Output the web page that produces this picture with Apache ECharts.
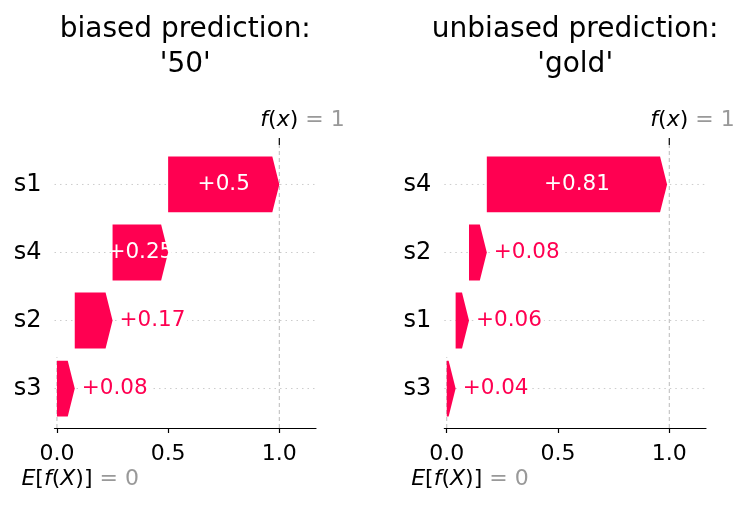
<!DOCTYPE html>
<html><head><meta charset="utf-8">
<script src="https://cdn.jsdelivr.net/npm/echarts@6/dist/echarts.min.js"></script>
<style>html,body{margin:0;padding:0;background:#fff}#c{width:747px;height:505px}</style>
</head><body><div id="c"></div>
<script>
// ---- data ----
const titles = ["biased prediction:\n'50'", "unbiased prediction:\n'gold'"];
const features1 = ['s1', 's4', 's2', 's3'];   // top -> bottom
const values1 = [0.5, 0.25, 0.17, 0.08];
const features2 = ['s4', 's2', 's1', 's3'];
const values2 = [0.81, 0.08, 0.06, 0.04];
const baseValues = [0, 0];
const fxValues = [1, 1];
const xTicks = [0, 0.5, 1.0];
const xTickLabels = ['0.0', '0.5', '1.0'];

const RED = '#ff0051';
const FONT = 'DejaVu Sans';
const GRIDS = [
  {left: 54.5, width: 261.5, top: 145, height: 283},
  {left: 444.3, width: 261.7, top: 145, height: 283}
];

const mctx = document.createElement('canvas').getContext('2d');
function measure(parts) {
  let w = 0;
  parts.forEach(p => { mctx.font = (p[1] ? 'italic ' : '') + p[2] + 'px "' + FONT + '"'; w += mctx.measureText(p[0]).width; });
  return w;
}

function buildRows(features, values, base) {
  const n = features.length, rows = [];
  let cum = base;
  for (let i = n - 1; i >= 0; i--) {
    rows.push([n - 1 - i, cum, cum + values[i], values[i]]);
    cum += values[i];
  }
  return rows;
}
function fmt(v) { return '+' + Number(v.toFixed(2)).toString(); }

function barRender(params, api) {
  const row = api.value(0), s = api.value(1), e = api.value(2), v = api.value(3);
  const cs = params.coordSys;
  const p0 = api.coord([s, row]), p1 = api.coord([e, row]);
  const h = api.size([0, 0.82])[1];
  const yc = p0[1], x0 = p0[0], x1 = p1[0], w = x1 - x0;
  const head = Math.min(7, w * 0.8);
  const pts = [[x0, yc - h / 2], [x1 - head, yc - h / 2], [x1, yc], [x1 - head, yc + h / 2], [x0, yc + h / 2]];
  const inside = w > 50;
  const txt = {
    type: 'text', x: inside ? (x0 + x1) / 2 : x1 + 5, y: yc, z2: 10,
    style: {text: fmt(v), fill: inside ? '#ffffff' : RED, fontSize: 21.5, fontFamily: FONT,
      align: inside ? 'center' : 'left', verticalAlign: 'middle',
      backgroundColor: inside ? null : '#ffffff', padding: inside ? 0 : [0, 2]}
  };
  return {type: 'group', children: [
    {type: 'line', z2: 0, shape: {x1: cs.x, y1: yc, x2: cs.x + cs.width, y2: yc},
      style: {stroke: '#cccccc', lineWidth: 1, lineDash: [1.5, 4]}},
    {type: 'polygon', z2: 5, shape: {points: pts}, style: {fill: RED}},
    txt
  ]};
}

function refRender(params, api) {
  const cs = params.coordSys;
  const bv = api.value(0), fv = api.value(1);
  const bx = api.coord([bv, 0])[0], fx = api.coord([fv, 0])[0];
  const bottom = cs.y + cs.height, top = cs.y;
  const dash = {stroke: '#bbbbbb', lineWidth: 1, lineDash: [4, 3]};
  const fs = 22;
  const rich = {
    it: {fontStyle: 'italic', fontSize: fs, fontFamily: FONT, fill: '#000'},
    n: {fontSize: fs, fontFamily: FONT, fill: '#000'},
    g: {fontSize: fs, fontFamily: FONT, fill: '#999999'}
  };
  const wF = measure([['f', 1, fs], ['(', 0, fs], ['x', 1, fs], [')', 0, fs]]);
  const wE = measure([['E', 1, fs], ['[', 0, fs], ['f', 1, fs], ['(', 0, fs], ['X', 1, fs], [')]', 0, fs]]);
  return {type: 'group', children: [
    {type: 'line', shape: {x1: bx, y1: bottom, x2: bx, y2: bottom - cs.height / 4}, style: dash},
    {type: 'line', shape: {x1: fx, y1: bottom, x2: fx, y2: top}, style: dash},
    {type: 'line', shape: {x1: fx, y1: top - 7, x2: fx, y2: top}, style: {stroke: '#000', lineWidth: 1.2}},
    {type: 'text', x: fx - wF / 2, y: top - 25, style: {
      text: '{it|f}{n|(}{it|x}{n|)}{g| = ' + Number(fv.toFixed(3)) + '}', rich: rich,
      fontSize: fs, fontFamily: FONT, align: 'left', verticalAlign: 'middle'}},
    {type: 'text', x: bx - wE / 2, y: bottom + 51, style: {
      text: '{it|E}{n|[}{it|f}{n|(}{it|X}{n|)]}{g| = ' + Number(bv.toFixed(3)) + '}', rich: rich,
      fontSize: fs, fontFamily: FONT, align: 'left', verticalAlign: 'middle'}}
  ]};
}

const panels = [[features1, values1], [features2, values2]];
const option = {
  animation: false,
  backgroundColor: '#ffffff',
  grid: GRIDS.map(g => Object.assign({containLabel: false}, g)),
  graphic: titles.map((t, i) => ({
    type: 'text', x: GRIDS[i].left + GRIDS[i].width / 2, y: 12,
    style: {text: t, fontSize: 28, fontFamily: FONT, fill: '#000', align: 'center', verticalAlign: 'top', lineHeight: 35}
  })),
  xAxis: panels.map((p, i) => ({
    type: 'value', gridIndex: i, min: -0.011, max: 1.165,
    axisLine: {show: true, onZero: false, lineStyle: {color: '#000', width: 1.2}},
    axisTick: {show: true, length: 5, customValues: xTicks, lineStyle: {color: '#000', width: 1.2}},
    axisLabel: {customValues: xTicks, margin: 15, fontSize: 22, fontFamily: FONT, color: '#000',
      formatter: v => xTickLabels[xTicks.indexOf(v)] || ''},
    splitLine: {show: false}
  })),
  yAxis: panels.map((p, i) => ({
    type: 'value', gridIndex: i, min: -0.58, max: 3.58,
    axisLine: {show: false, onZero: false}, axisTick: {show: false}, splitLine: {show: false},
    axisLabel: {customValues: [0, 1, 2, 3], margin: 13, fontSize: 24, fontFamily: FONT, color: '#000',
      formatter: v => p[0][p[0].length - 1 - Math.round(v)]}
  })),
  series: [].concat(...panels.map((p, i) => [
    {type: 'custom', xAxisIndex: i, yAxisIndex: i, z: 1, renderItem: refRender,
      data: [[baseValues[i], fxValues[i]]], clip: false, silent: true},
    {type: 'custom', xAxisIndex: i, yAxisIndex: i, z: 2, renderItem: barRender,
      data: buildRows(p[0], p[1], baseValues[i]), clip: false, silent: true}
  ]))
};
const chart = echarts.init(document.getElementById('c'), null, {renderer: 'canvas'});
chart.setOption(option);
</script>
</body></html>
